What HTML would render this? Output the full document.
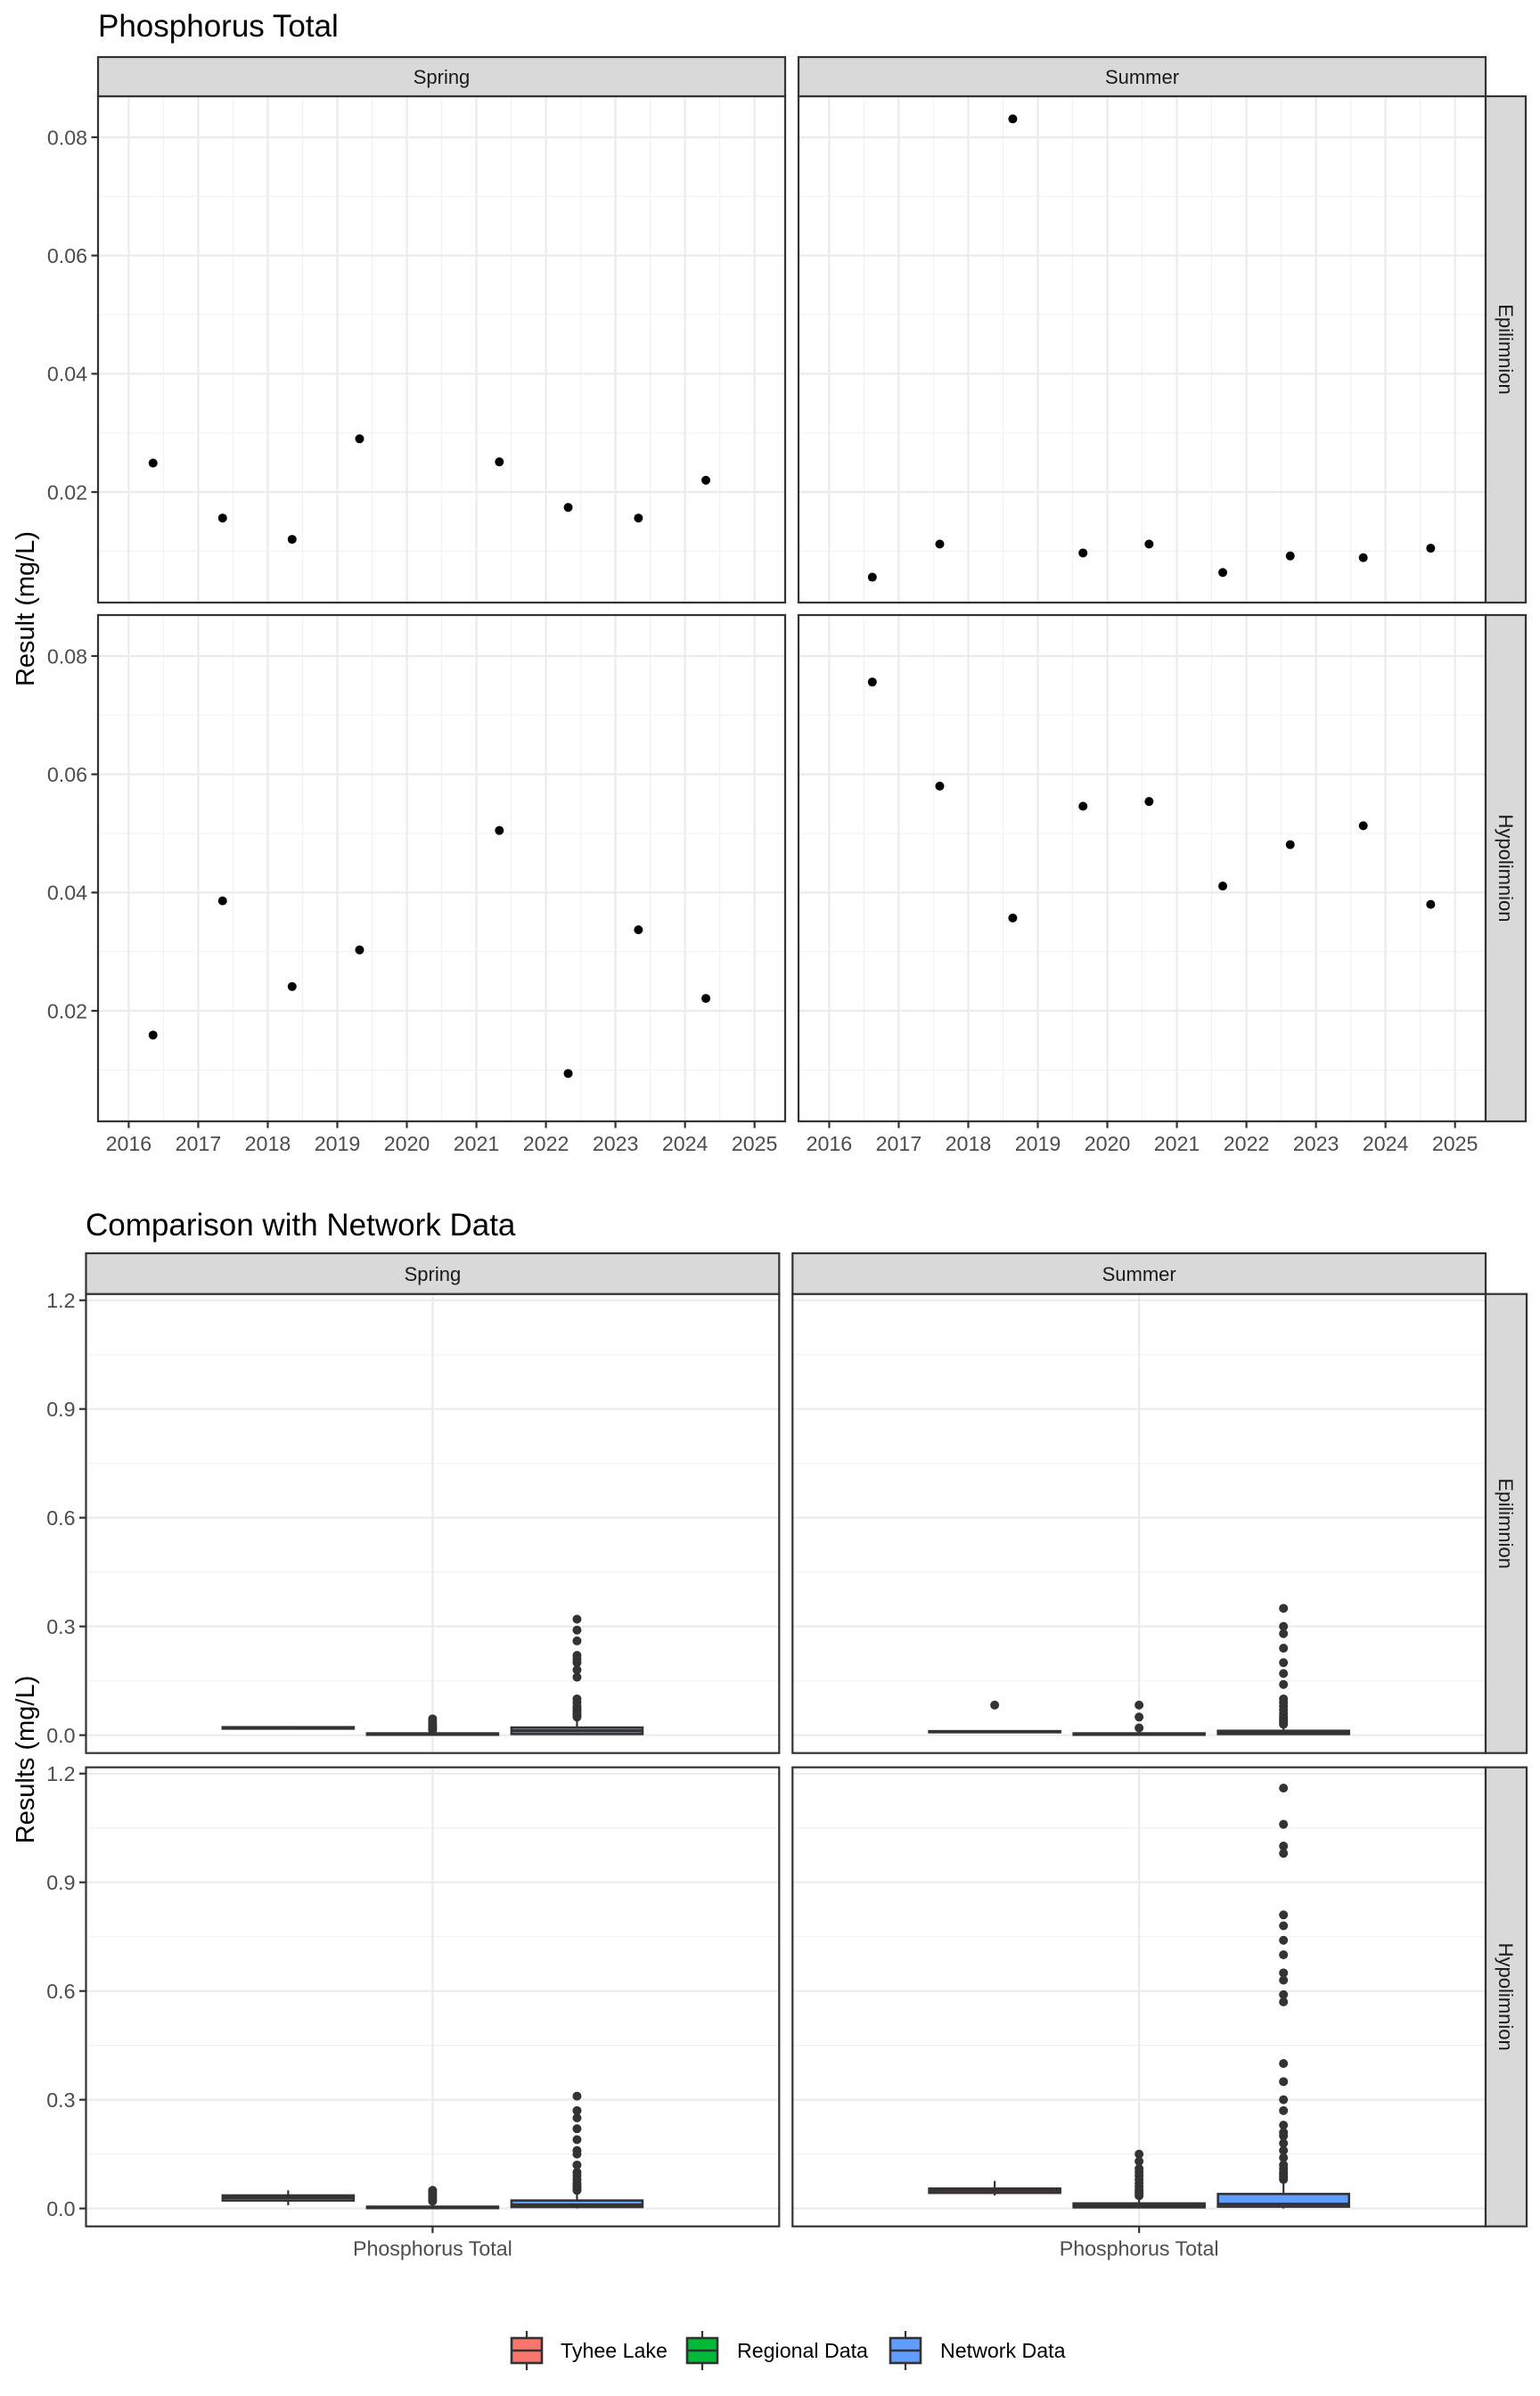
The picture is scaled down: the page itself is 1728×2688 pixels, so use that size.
<!DOCTYPE html>
<html><head><meta charset="utf-8">
<style>
html,body{margin:0;padding:0;background:#fff;}
svg{display:block;font-family:"Liberation Sans",Arial,sans-serif;}
</style></head>
<body>
<svg id="chart" xmlns="http://www.w3.org/2000/svg" width="1728" height="2688" viewBox="0 0 1728 2688">
<rect x="0" y="0" width="1728" height="2688" fill="#fff"/>
<text x="110" y="41" font-size="35" fill="#000">Phosphorus Total</text>
<text x="96" y="1386" font-size="35" fill="#000">Comparison with Network Data</text>
<text transform="translate(38,683) rotate(-90)" text-anchor="middle" font-size="29" fill="#000">Result (mg/L)</text>
<text transform="translate(38,1974) rotate(-90)" text-anchor="middle" font-size="29" fill="#000">Results (mg/L)</text>
</svg>
<script>
// ---- top chart data ----
const yearsSpring = [2016.35, 2017.35, 2018.35, 2019.32, 2021.33, 2022.32, 2023.33, 2024.30];
const epiSpring = [0.0249, 0.0156, 0.0120, 0.0290, 0.0251, 0.0174, 0.0156, 0.0220];
const hypoSpring = [0.0159, 0.0386, 0.0241, 0.0303, 0.0505, 0.0094, 0.0337, 0.0221];
const yearsSummer = [2016.62, 2017.59, 2018.64, 2019.65, 2020.60, 2021.66, 2022.63, 2023.68, 2024.65];
const epiSummer = [0.0056, 0.0112, 0.0831, 0.0097, 0.0112, 0.0064, 0.0092, 0.0089, 0.0105];
const hypoSummer = [0.0756, 0.0580, 0.0357, 0.0546, 0.0554, 0.0411, 0.0481, 0.0513, 0.0380];
const yearTicks = [2016, 2017, 2018, 2019, 2020, 2021, 2022, 2023, 2024, 2025];
const topYTicks = [0.02, 0.04, 0.06, 0.08];
const topYTickLabels = ["0.02", "0.04", "0.06", "0.08"];
const seasons = ["Spring", "Summer"];
const layers = ["Epilimnion", "Hypolimnion"];
// ---- bottom chart data: [lower whisker, q1, median, q3, upper whisker] ----
const groups = ["Tyhee Lake", "Regional Data", "Network Data"];
const groupColors = ["#F8766D", "#00BA38", "#619CFF"];
const boxSpringEpi = [[0.016, 0.018, 0.020, 0.022, 0.025], [0.000, 0.001, 0.002, 0.005, 0.010], [0.000, 0.003, 0.012, 0.021, 0.045]];
const boxSummerEpi = [[0.006, 0.008, 0.010, 0.011, 0.013], [0.000, 0.001, 0.002, 0.005, 0.010], [0.000, 0.003, 0.006, 0.012, 0.025]];
const boxSpringHypo = [[0.009, 0.022, 0.030, 0.036, 0.050], [0.000, 0.001, 0.002, 0.005, 0.012], [0.000, 0.004, 0.010, 0.022, 0.045]];
const boxSummerHypo = [[0.036, 0.043, 0.050, 0.055, 0.076], [0.000, 0.003, 0.007, 0.014, 0.030], [0.000, 0.005, 0.012, 0.040, 0.080]];
const outSpringEpi = [[], [0.045, 0.038, 0.032, 0.027, 0.022, 0.018, 0.014], [0.32, 0.29, 0.26, 0.22, 0.21, 0.20, 0.18, 0.16, 0.10, 0.09, 0.08, 0.075, 0.07, 0.065, 0.06, 0.055, 0.05]];
const outSummerEpi = [[0.083], [0.083, 0.05, 0.02], [0.35, 0.30, 0.28, 0.24, 0.20, 0.17, 0.14, 0.10, 0.09, 0.08, 0.07, 0.06, 0.05, 0.045, 0.04, 0.035, 0.03]];
const outSpringHypo = [[], [0.05, 0.045, 0.04, 0.035, 0.03, 0.025, 0.02], [0.31, 0.27, 0.25, 0.22, 0.19, 0.16, 0.15, 0.12, 0.10, 0.09, 0.08, 0.07, 0.065, 0.06, 0.055, 0.05]];
const outSummerHypo = [[], [0.15, 0.13, 0.11, 0.10, 0.09, 0.08, 0.07, 0.06, 0.05, 0.045, 0.04, 0.035], [1.16, 1.06, 1.00, 0.98, 0.81, 0.78, 0.74, 0.70, 0.65, 0.63, 0.59, 0.57, 0.40, 0.35, 0.30, 0.27, 0.23, 0.21, 0.20, 0.18, 0.16, 0.14, 0.12, 0.11, 0.10, 0.095, 0.09, 0.085, 0.08]];
const botYTicks = [0.0, 0.3, 0.6, 0.9, 1.2];
const botYTickLabels = ["0.0", "0.3", "0.6", "0.9", "1.2"];
const botYMinor = [0.15, 0.45, 0.75, 1.05];
const xCategory = "Phosphorus Total";

const svg = document.getElementById('chart');
const NS = 'http://www.w3.org/2000/svg';
function mk(tag, attrs, parent) {
  const e = document.createElementNS(NS, tag);
  for (const k in attrs) e.setAttribute(k, attrs[k]);
  (parent || svg).appendChild(e);
  return e;
}
function lin(d0, d1, r0, r1) { return v => r0 + (v - d0) / (d1 - d0) * (r1 - r0); }

// ---------------- TOP CHART ----------------
const topCols = [[110, 881], [896, 1667]];
const topRows = [[108, 676], [690, 1258]];
const topXDom = [2015.559, 2025.44];
const topYDom = [0.00131, 0.08693];
const topData = [[[yearsSpring, epiSpring], [yearsSummer, epiSummer]], [[yearsSpring, hypoSpring], [yearsSummer, hypoSummer]]];

for (let r = 0; r < 2; r++) {
  for (let c = 0; c < 2; c++) {
    const [x0, x1] = topCols[c], [y0, y1] = topRows[r];
    const sx = lin(topXDom[0], topXDom[1], x0, x1);
    const sy = lin(topYDom[0], topYDom[1], y1, y0);
    const g = mk('g', {});
    
    
    for (let i = 0; i < yearTicks.length + 1; i++) {
      const yv = yearTicks[0] - 0.5 + i;
      if (yv > topXDom[0] && yv < topXDom[1]) {
        const ln = mk('line', {x1: sx(yv), x2: sx(yv), y1: y0, y2: y1, stroke: '#F2F2F2', 'stroke-width': 1.2}, g);
        
        
      }
    }
    for (let i = 0; i <= topYTicks.length; i++) {
      const v = (i === 0 ? topYTicks[0] - 0.01 : topYTicks[i - 1] + 0.01);
      if (v > topYDom[0] && v < topYDom[1]) {
        const ln = mk('line', {x1: x0, x2: x1, y1: sy(v), y2: sy(v), stroke: '#F2F2F2', 'stroke-width': 1.2}, g);
        
        
      }
    }
    yearTicks.forEach(t => {
      const ln = mk('line', {x1: sx(t), x2: sx(t), y1: y0, y2: y1, stroke: '#EBEBEB', 'stroke-width': 2.2}, g);
      
      
    });
    topYTicks.forEach(t => {
      const ln = mk('line', {x1: x0, x2: x1, y1: sy(t), y2: sy(t), stroke: '#EBEBEB', 'stroke-width': 2.2}, g);
      
      
    });
    const [xs, ys] = topData[r][c];
    xs.forEach((xv, i) => {
      const p = mk('circle', {cx: sx(xv), cy: sy(ys[i]), r: 5, fill: '#000'}, g);
      
      
    });
    const b = mk('rect', {x: x0, y: y0, width: x1 - x0, height: y1 - y0, fill: 'none', stroke: '#333', 'stroke-width': 2.2}, g);
    
    
    if (c === 0) {
      topYTicks.forEach((t, i) => {
        const tk = mk('line', {x1: x0 - 7.5, x2: x0, y1: sy(t), y2: sy(t), stroke: '#333', 'stroke-width': 2.2});
        
        
        const tl = mk('text', {x: x0 - 12, y: sy(t) + 8.3, 'text-anchor': 'end', 'font-size': 23.2, fill: '#4D4D4D'});
        tl.textContent = topYTickLabels[i];
        
        
      });
    }
    if (r === 1) {
      yearTicks.forEach(t => {
        const tk = mk('line', {x1: sx(t), x2: sx(t), y1: y1, y2: y1 + 7.5, stroke: '#333', 'stroke-width': 2.2});
        
        
        const tl = mk('text', {x: sx(t), y: y1 + 33, 'text-anchor': 'middle', 'font-size': 23.2, fill: '#4D4D4D'});
        tl.textContent = String(t);
        
        
      });
    }
  }
}
seasons.forEach((s, c) => {
  const [x0, x1] = topCols[c];
  const st = mk('rect', {x: x0, y: 64, width: x1 - x0, height: 44, fill: '#D9D9D9', stroke: '#333', 'stroke-width': 2.2});
  
  
  const tx = mk('text', {x: (x0 + x1) / 2, y: 94, 'text-anchor': 'middle', 'font-size': 22, fill: '#1A1A1A'});
  tx.textContent = s;
  
  
});
layers.forEach((l, r) => {
  const [y0, y1] = topRows[r];
  const st = mk('rect', {x: 1667, y: y0, width: 45, height: y1 - y0, fill: '#D9D9D9', stroke: '#333', 'stroke-width': 2.2});
  
  
  const tx = mk('text', {transform: 'translate(1682,' + (y0 + y1) / 2 + ') rotate(90)', 'text-anchor': 'middle', 'font-size': 22, fill: '#1A1A1A'});
  tx.textContent = l;
  
  
});

// ---------------- BOTTOM CHART ----------------
const botCols = [[96.5, 874.3], [889.3, 1667]];
const botRows = [[1451.7, 1966.7], [1982.7, 2497.7]];
const botYDom = [-0.0494, 1.2173];
const boxStats = [[boxSpringEpi, boxSummerEpi], [boxSpringHypo, boxSummerHypo]];
const boxOut = [[outSpringEpi, outSummerEpi], [outSpringHypo, outSummerHypo]];

for (let r = 0; r < 2; r++) {
  for (let c = 0; c < 2; c++) {
    const [x0, x1] = botCols[c], [y0, y1] = botRows[r];
    const sy = lin(botYDom[0], botYDom[1], y1, y0);
    const unit = (x1 - x0) / 1.2;
    const cx = (x0 + x1) / 2;
    const g = mk('g', {});
    
    
    botYMinor.forEach(v => {
      const ln = mk('line', {x1: x0, x2: x1, y1: sy(v), y2: sy(v), stroke: '#F2F2F2', 'stroke-width': 1.2}, g);
      
      
    });
    botYTicks.forEach(v => {
      const ln = mk('line', {x1: x0, x2: x1, y1: sy(v), y2: sy(v), stroke: '#EBEBEB', 'stroke-width': 2.2}, g);
      
      
    });
    const vg = mk('line', {x1: cx, x2: cx, y1: y0, y2: y1, stroke: '#EBEBEB', 'stroke-width': 2.2}, g);
    
    
    const stats = boxStats[r][c], outs = boxOut[r][c];
    groups.forEach((gr, i) => {
      const bc = cx + (i - 1) * 0.25 * unit;
      const hw = 0.2268 * unit / 2;
      const [lo, q1, md, q3, hi] = stats[i];
      const bg = mk('g', {}, g);
      
      
      const w1 = mk('line', {x1: bc, x2: bc, y1: sy(hi), y2: sy(q3), stroke: '#333', 'stroke-width': 2.2}, bg);
      
      
      const w2 = mk('line', {x1: bc, x2: bc, y1: sy(q1), y2: sy(lo), stroke: '#333', 'stroke-width': 2.2}, bg);
      
      
      const bx = mk('rect', {x: bc - hw, y: sy(q3), width: 2 * hw, height: Math.max(sy(q1) - sy(q3), 0.5), fill: groupColors[i], stroke: '#333', 'stroke-width': 2.6}, bg);
      
      
      const ml = mk('line', {x1: bc - hw, x2: bc + hw, y1: sy(md), y2: sy(md), stroke: '#333', 'stroke-width': 3.2}, bg);
      
      
      outs[i].forEach(v => {
        const p = mk('circle', {cx: bc, cy: sy(v), r: 5, fill: '#333'}, bg);
        
        
      });
    });
    const b = mk('rect', {x: x0, y: y0, width: x1 - x0, height: y1 - y0, fill: 'none', stroke: '#333', 'stroke-width': 2.2}, g);
    
    
    if (c === 0) {
      botYTicks.forEach((t, i) => {
        const tk = mk('line', {x1: x0 - 7.5, x2: x0, y1: sy(t), y2: sy(t), stroke: '#333', 'stroke-width': 2.2});
        
        
        const tl = mk('text', {x: x0 - 12, y: sy(t) + 8.3, 'text-anchor': 'end', 'font-size': 23.2, fill: '#4D4D4D'});
        tl.textContent = botYTickLabels[i];
        
        
      });
    }
    if (r === 1) {
      const tk = mk('line', {x1: cx, x2: cx, y1: y1, y2: y1 + 7.5, stroke: '#333', 'stroke-width': 2.2});
      
      
      const tl = mk('text', {x: cx, y: y1 + 33, 'text-anchor': 'middle', 'font-size': 23.2, fill: '#4D4D4D'});
      tl.textContent = xCategory;
      
      
    }
  }
}
seasons.forEach((s, c) => {
  const [x0, x1] = botCols[c];
  const st = mk('rect', {x: x0, y: 1406, width: x1 - x0, height: 45.7, fill: '#D9D9D9', stroke: '#333', 'stroke-width': 2.2});
  
  
  const tx = mk('text', {x: (x0 + x1) / 2, y: 1437, 'text-anchor': 'middle', 'font-size': 22, fill: '#1A1A1A'});
  tx.textContent = s;
  
  
});
layers.forEach((l, r) => {
  const [y0, y1] = botRows[r];
  const st = mk('rect', {x: 1667, y: y0, width: 46, height: y1 - y0, fill: '#D9D9D9', stroke: '#333', 'stroke-width': 2.2});
  
  
  const tx = mk('text', {transform: 'translate(1682,' + (y0 + y1) / 2 + ') rotate(90)', 'text-anchor': 'middle', 'font-size': 22, fill: '#1A1A1A'});
  tx.textContent = l;
  
  
});

// legend
const legKeyX = [574, 771, 999];
const legTextX = [629, 827, 1055];
groups.forEach((gr, i) => {
  const lg = mk('g', {});
  
  
  const kx = legKeyX[i];
  const wl = mk('line', {x1: kx + 17, x2: kx + 17, y1: 2615, y2: 2659, stroke: '#333', 'stroke-width': 2.2}, lg);
  
  
  const kb = mk('rect', {x: kx, y: 2623, width: 34, height: 28, fill: groupColors[i], stroke: '#333', 'stroke-width': 2.6}, lg);
  
  
  const km = mk('line', {x1: kx, x2: kx + 34, y1: 2637, y2: 2637, stroke: '#333', 'stroke-width': 2.6}, lg);
  
  
  const lt = mk('text', {x: legTextX[i], y: 2645, 'font-size': 23.2, fill: '#000'}, lg);
  lt.textContent = gr;
  
  
});
</script>
</body></html>
